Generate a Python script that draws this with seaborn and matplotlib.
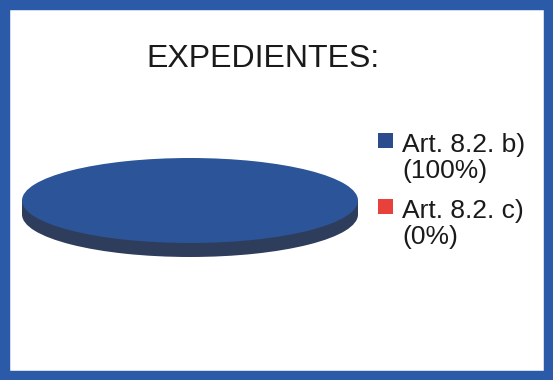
import matplotlib
matplotlib.use("Agg")
import matplotlib.pyplot as plt
import seaborn as sns
from matplotlib.patches import Rectangle

sns.set_theme(style="white")
plt.rcParams['font.family'] = ['Liberation Sans', 'DejaVu Sans']

# Data
categories = ["Art. 8.2. b)", "Art. 8.2. c)"]
shares = [100, 0]
title = "EXPEDIENTES:"

top_colors = ["#2b5598", "#e8413c"]
side_colors = ["#2f3d5c", "#8a2a26"]
legend_colors = ["#2b4b8c", "#e8413c"]

W, H, DPI = 553, 380, 100
fig = plt.figure(figsize=(W / DPI, H / DPI), dpi=DPI)
fig.patch.set_facecolor("white")

# Pie axes: flattened to give the tilted 3D disc look
px_left, px_right = 22, 358
px_top, px_bottom = 158, 257
ax = fig.add_axes([px_left / W, 1 - px_bottom / H,
                   (px_right - px_left) / W, (px_bottom - px_top) / H])
depth = 0.33

# side of the disc: darker pie shifted down plus a band joining it to the top face
ax.pie(shares, colors=side_colors, startangle=90, counterclock=False,
       center=(0, -depth), radius=1, frame=True,
       wedgeprops=dict(linewidth=0))
ax.add_patch(Rectangle((-1, -depth), 2, depth, facecolor=side_colors[0],
                       edgecolor="none", zorder=1.5))
# top face
wedges, _ = ax.pie(shares, colors=top_colors, startangle=90, counterclock=False,
                   center=(0, 0), radius=1, frame=True,
                   wedgeprops=dict(linewidth=0, zorder=2))
ax.set_aspect("auto")
ax.set_xlim(-1.0, 1.0)
ax.set_ylim(-1 - depth, 1.0)
ax.axis("off")

# Title
fig.text(263 / W, 1 - 67 / H, title, ha="center", va="baseline",
         fontsize=23, color="#1a1a1a")

# Legend: square key aligned with the first line of each two-line label
entry_step = 66      # px between entries
line_step = 26       # px between the two lines of a label
first_base = 152     # px, baseline of the first label line
for i, (cat, val, col) in enumerate(zip(categories, shares, legend_colors)):
    base = first_base + i * entry_step
    fig.patches.append(Rectangle((378 / W, 1 - (base - 4) / H), 15 / W, 15 / H,
                                 transform=fig.transFigure, facecolor=col,
                                 edgecolor="none"))
    fig.text(402 / W, 1 - base / H, cat, ha="left", va="baseline",
             fontsize=19, color="#1a1a1a")
    fig.text(402 / W, 1 - (base + line_step) / H, f"({val}%)", ha="left",
             va="baseline", fontsize=19, color="#1a1a1a")

# Blue frame round the whole chart
fig.patches.append(Rectangle((0, 0), 1, 1, transform=fig.transFigure,
                             fill=False, edgecolor="#2a5aa8", linewidth=14,
                             zorder=10))

fig.savefig("out.png", dpi=DPI)
